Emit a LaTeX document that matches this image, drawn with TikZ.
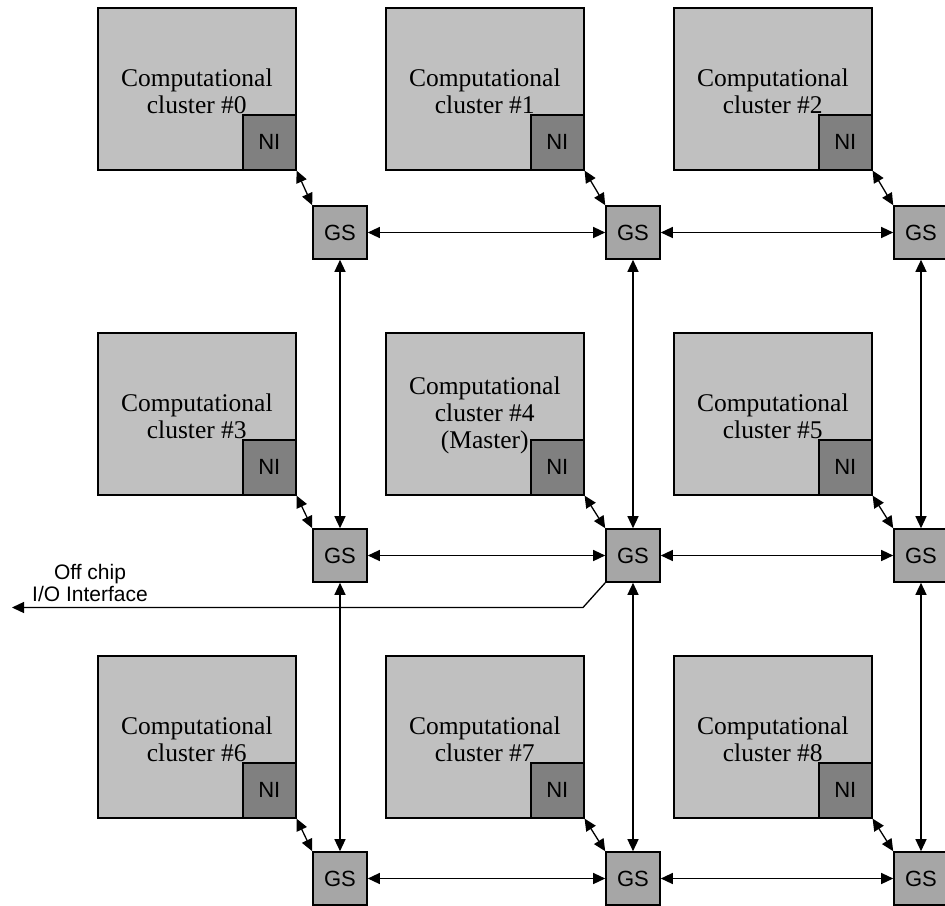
\documentclass[tikz,border=0pt]{standalone}
\usepackage{fontspec}
\setmainfont{Liberation Serif}
\setsansfont{Liberation Sans}
\usetikzlibrary{arrows.meta}
\definecolor{clfill}{RGB}{192,192,192}
\definecolor{nifill}{RGB}{128,128,128}
\definecolor{gsfill}{RGB}{166,166,166}
\begin{document}
\begin{tikzpicture}[x=1pt,y=-1pt,
  cluster/.style={draw=black,line width=1.6pt,fill=clfill,inner sep=0pt,
     minimum width=198pt,minimum height=162pt,anchor=north west},
  clustertext/.style={align=center,font=\fontsize{25.5}{27}\selectfont\rmfamily,inner sep=0pt},
  nibox/.style={draw=black,line width=1.6pt,fill=nifill,inner sep=0pt,
     minimum width=53pt,minimum height=55pt,anchor=south east,font=\fontsize{22}{24}\selectfont\sffamily},
  gsbox/.style={draw=black,line width=1.6pt,fill=gsfill,inner sep=0pt,
     minimum width=54pt,minimum height=53pt,font=\fontsize{22}{24}\selectfont\sffamily},
  link/.style={line width=1.3pt,{Triangle[length=12pt,width=11pt]}-{Triangle[length=12pt,width=11pt]}},
  outlink/.style={line width=1.3pt,-{Triangle[length=12pt,width=11pt]}}
]
\clip (0,0) rectangle (945,905);
% clusters
\foreach \n/\x/\y/\t in {0/97/7/{Computational\\cluster \#0},
                         1/385/7/{Computational\\cluster \#1},
                         2/673/7/{Computational\\cluster \#2},
                         3/97/332/{Computational\\cluster \#3},
                         4/385/332/{Computational\\cluster \#4\\(Master)},
                         5/673/332/{Computational\\cluster \#5},
                         6/97/655/{Computational\\cluster \#6},
                         7/385/655/{Computational\\cluster \#7},
                         8/673/655/{Computational\\cluster \#8}}{
  \node[cluster] (c\n) at (\x,\y) {};
  \node[clustertext] (t\n) at ([yshift=-2pt]c\n.center) {\t};
  \node[nibox] (ni\n) at (c\n.south east) {NI};
}
% switches
\foreach \n/\x/\y in {0/340/232.5,1/633/232.5,2/921/232.5,
                      3/340/555.5,4/633/555.5,5/921/555.5,
                      6/340/878.5,7/633/878.5,8/921/878.5}{
  \node[gsbox] (gs\n) at (\x,\y) {GS};
}
% NI to GS
\foreach \n in {0,...,8}{
  \draw[link] (ni\n.south east) -- (gs\n.north west);
}
% horizontal
\foreach \a/\b in {0/1,1/2,3/4,4/5,6/7,7/8}{
  \draw[link] (gs\a.east) -- (gs\b.west);
}
% vertical
\foreach \a/\b in {0/3,3/6,1/4,4/7,2/5,5/8}{
  \draw[link] (gs\a.south) -- (gs\b.north);
}
% off chip
\coordinate (bend) at (583,607.5);
\coordinate (offend) at (12,607.5);
\draw[outlink] (gs4.south west) -- (bend) -- (offend);
\node[align=center,font=\fontsize{21}{22.5}\selectfont\sffamily,inner sep=0pt] (offtxt) at (90,583) {Off chip\\I/O Interface};
\end{tikzpicture}
\end{document}
